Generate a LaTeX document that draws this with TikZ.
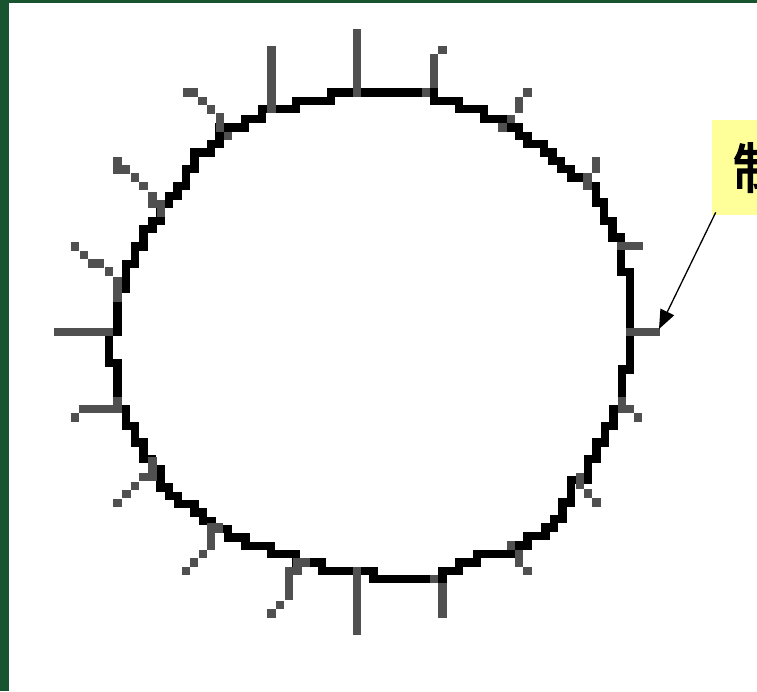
\documentclass[tikz,border=0pt]{standalone}
\usepackage{fontspec}
\newfontfamily\cjkfont[FakeBold=3]{Noto Sans CJK SC}
\usetikzlibrary{arrows.meta}
\definecolor{ringC}{RGB}{0,0,0}
\definecolor{spokeC}{RGB}{80,80,80}
\definecolor{frameC}{RGB}{24,84,48}
\definecolor{calloutC}{RGB}{255,255,153}

\begin{document}
\begin{tikzpicture}[x=1pt, y=-1pt,
  ring/.style={draw=ringC, line width=8.4pt, line join=miter},
  spoke/.style={fill=spokeC},
  calloutbox/.style={fill=calloutC, anchor=north west, minimum height=95pt,
             inner xsep=21pt, inner ysep=0pt,
             font=\cjkfont\fontsize{54}{60}\selectfont},
  pointer/.style={-{Triangle[length=19pt, width=15pt]}, line width=1.3pt, draw=black},
]
\useasboundingbox (0,0) rectangle (757,691);
\clip (0,0) rectangle (757,691);

% ---------------- slide frame ----------------
\fill[frameC] (0,0) rectangle (757,691);
\fill[white] (9,3) rectangle (757,691);

% ---------------- pixel ring ----------------
\draw[ring] (331,92.5) -- (434,92.5) -- (434,101) -- (459,101) -- (459,109)
  -- (484,109) -- (484,119) -- (511,119) -- (511,127.5) -- (519,127.5)
  -- (519,136) -- (527.5,136) -- (527.5,144) -- (544,144) -- (544,152.5)
  -- (552.5,152.5) -- (552.5,161) -- (561,161) -- (561,169) -- (571,169)
  -- (571,177.5) -- (587.5,177.5) -- (587.5,186) -- (596,186) -- (596,202.5)
  -- (604,202.5) -- (604,221) -- (612.5,221) -- (612.5,237.5) -- (621,237.5)
  -- (621,271.7) -- (630,271.7) -- (630,369.5) -- (622,369.5) -- (622,409)
  -- (613.5,409) -- (613.5,425.8) -- (605,425.8) -- (605,442.5) -- (596.5,442.5)
  -- (596.5,459) -- (588,459) -- (588,480) -- (571,480) -- (571,502.5)
  -- (562.5,502.5) -- (562.5,519) -- (554,519) -- (554,527.5) -- (545.5,527.5)
  -- (545.5,536) -- (527.5,536) -- (527.5,545.5) -- (511,545.5) -- (511,554)
  -- (476.7,554) -- (476.7,562.5) -- (459,562.5) -- (459,571) -- (442.5,571)
  -- (442.5,579) -- (373.5,579) -- (373.5,571) -- (322,571) -- (322,562.5)
  -- (296,562.5) -- (296,554) -- (271,554) -- (271,545.8) -- (245.5,545.8)
  -- (245.5,537.5) -- (228,537.5) -- (228,528.7) -- (211.5,528.7) -- (211.5,520.8)
  -- (203,520.8) -- (203,512.5) -- (194.5,512.5) -- (194.5,504) -- (178,504)
  -- (178,495.8) -- (169,495.8) -- (169,487.5) -- (160.5,487.5) -- (160.5,469)
  -- (152,469) -- (152,459) -- (143.5,459) -- (143.5,442.5) -- (135,442.5)
  -- (135,425.8) -- (126,425.8) -- (126,409) -- (117.5,409) -- (117.5,363)
  -- (109,363) -- (109,332) -- (117.5,332) -- (117.5,289) -- (126,289)
  -- (126,264) -- (135,264) -- (135,246.5) -- (143.5,246.5) -- (143.5,229)
  -- (152.5,229) -- (152.5,221) -- (160.5,221) -- (160.5,204) -- (169,204)
  -- (169,196) -- (177.5,196) -- (177.5,186) -- (186,186) -- (186,169)
  -- (194.5,169) -- (194.5,152.5) -- (211,152.5) -- (211,144) -- (219.5,144)
  -- (219.5,127.5) -- (245,127.5) -- (245,119) -- (262,119) -- (262,109)
  -- (296,109) -- (296,101) -- (331,101) -- cycle;

% ---------------- spokes: straight runs ----------------
\fill[spoke] (267.3,46) rectangle (275.7,113.3);
\fill[spoke] (353.3,29) rectangle (361,96.7);
\fill[spoke] (430,54) rectangle (438.3,88.3);
\fill[spoke] (514.8,96.7) rectangle (523.3,113.3);
\fill[spoke] (591.7,156.7) rectangle (600,173.3);
\fill[spoke] (583.3,173.3) rectangle (591.7,190);
\fill[spoke] (616.7,241.7) rectangle (642.7,250);
\fill[spoke] (626,328.3) rectangle (660,336);
\fill[spoke] (617.7,396.7) rectangle (626,405);
\fill[spoke] (617.7,405) rectangle (634,413.3);
\fill[spoke] (575.7,472.7) rectangle (584,489.3);
\fill[spoke] (515,550) rectangle (523.3,566.7);
\fill[spoke] (438.3,583.3) rectangle (446.7,617.7);
\fill[spoke] (353.3,566.7) rectangle (361,635);
\fill[spoke] (293.3,558.3) rectangle (310,566.7);
\fill[spoke] (285,566.7) rectangle (301.7,575);
\fill[spoke] (285,575) rectangle (293.3,600);
\fill[spoke] (206.7,523.3) rectangle (223.3,533.3);
\fill[spoke] (206.7,533.3) rectangle (215,550);
\fill[spoke] (148.3,456.7) rectangle (156.7,473.3);
\fill[spoke] (139.3,472.7) rectangle (156.7,481);
\fill[spoke] (79.3,405) rectangle (121.7,413.3);
\fill[spoke] (113.3,396.7) rectangle (121.7,405);
\fill[spoke] (54,328.3) rectangle (113.3,336);
\fill[spoke] (113.3,276.7) rectangle (121.7,301.7);
\fill[spoke] (87.7,259.3) rectangle (104.3,267.7);
\fill[spoke] (148.3,191.7) rectangle (156.7,208.3);
\fill[spoke] (156.7,200) rectangle (165,216.7);
\fill[spoke] (113.3,156.7) rectangle (121.7,174);
\fill[spoke] (121.7,165) rectangle (130,174);
\fill[spoke] (183.3,88.3) rectangle (198.3,96.7);
\fill[spoke] (215.7,113.3) rectangle (224,131.7);

% ---------------- spokes: single steps ----------------
\foreach \x/\y in {442.5/50, 426/92.5, 527.5/92.5, 511/119, 502.5/127.5,
                   638/417.5, 588/493.5, 596.5/502.5, 511/545.5, 527.5/571,
                   434/579, 280/605, 271.5/613.5, 203/554, 194/562.5, 186/571,
                   135/485.8, 126.7/494, 117.5/502.8, 75/417.5, 75/246.5,
                   84/255, 109/271.5, 135/177.5, 143.5/186, 202.5/101,
                   211/109.5, 228/136}
  \fill[spoke] (\x-4.3,\y-4.3) rectangle ++(8.6,8.6);

% ---------------- callout ----------------
\node[calloutbox] (brake) at (711.7,120) {制};
\coordinate (tip) at (659,329);
\draw[pointer] ([xshift=4pt, yshift=3pt]brake.south west) -- (tip);

\end{tikzpicture}
\end{document}
